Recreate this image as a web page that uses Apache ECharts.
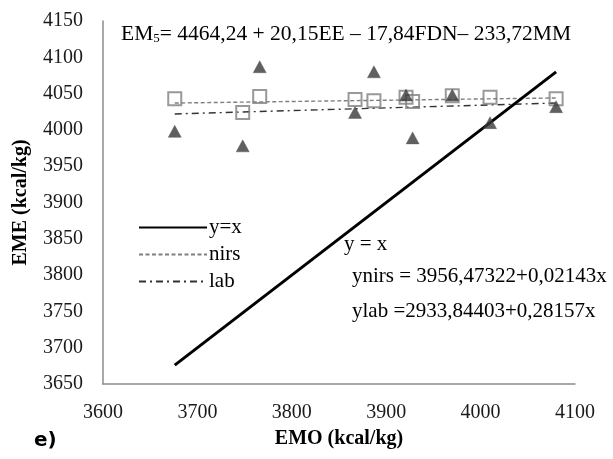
<!DOCTYPE html>
<html>
<head>
<meta charset="utf-8">
<script src="https://cdn.jsdelivr.net/npm/echarts@6/dist/echarts.min.js"></script>
<style>html,body{margin:0;padding:0;background:#fff;}#c{width:613px;height:459px;}</style>
</head>
<body>
<div id="c"></div>
<script>
const emo = [3676, 3748, 3766, 3867, 3887, 3921, 3928, 3970, 4010, 4080];
const nirsValues = [4043, 4024, 4046, 4042, 4040, 4045, 4039, 4047, 4045, 4043];
const labValues = [3998, 3978, 4087, 4024, 4080, 4048, 3989, 4048, 4010, 4032];
const identityLine = [[3676, 3676], [4080, 4080]];
const nirsTrend = [[3676, 4037], [4080, 4044]];
const labTrend = [[3676, 4022], [4080, 4037]];
const xTicks = {min: 3600, max: 4100, interval: 100};
const yTicks = {min: 3650, max: 4150, interval: 50};

const serif = '"Liberation Serif", "DejaVu Serif", serif';
const chart = echarts.init(document.getElementById('c'), null, {renderer: 'canvas'});
chart.setOption({
  animation: false,
  backgroundColor: '#fff',
  grid: {left: 103, top: 21, right: 38, bottom: 75},
  xAxis: {
    type: 'value', min: xTicks.min, max: xTicks.max, interval: xTicks.interval,
    axisLine: {show: true, lineStyle: {color: '#8c8c8c', width: 1.5}},
    axisTick: {show: false}, splitLine: {show: false},
    axisLabel: {color: '#1a1a1a', fontFamily: serif, fontSize: 20, margin: 19, formatter: v => String(v)},
    name: 'EMO (kcal/kg)', nameLocation: 'middle', nameGap: 45,
    nameTextStyle: {color: '#000', fontFamily: serif, fontSize: 20, fontWeight: 'bold'}
  },
  yAxis: {
    type: 'value', min: yTicks.min, max: yTicks.max, interval: yTicks.interval,
    axisLine: {show: true, lineStyle: {color: '#8c8c8c', width: 1.5}},
    axisTick: {show: false}, splitLine: {show: false},
    axisLabel: {color: '#1a1a1a', fontFamily: serif, fontSize: 20, margin: 20, formatter: v => String(v)},
    name: 'EME (kcal/kg)', nameLocation: 'middle', nameGap: 72, nameRotate: 90,
    nameTextStyle: {color: '#000', fontFamily: serif, fontSize: 20, fontWeight: 'bold'}
  },
  legend: {
    orient: 'vertical', left: 133, top: 212, itemGap: 6, itemWidth: 68, itemHeight: 20,
    data: ['y=x', 'nirs', 'lab'],
    itemStyle: {opacity: 0},
    textStyle: {color: '#000', fontFamily: serif, fontSize: 21, padding: [0,0,0,-3]}
  },
  series: [
    {name: 'y=x', type: 'line', data: identityLine, symbol: 'none', showSymbol: false,
     lineStyle: {color: '#000', width: 3}, itemStyle: {color: '#000'}, z: 3},
    {name: 'nirs', type: 'line', data: nirsTrend, symbol: 'none', showSymbol: false,
     lineStyle: {color: '#7f7f7f', width: 1.4, type: [4, 2.5]}, itemStyle: {color: '#7f7f7f'}, z: 2},
    {name: 'lab', type: 'line', data: labTrend, symbol: 'none', showSymbol: false,
     lineStyle: {color: '#333', width: 1.4, type: [7, 4, 2, 4]}, itemStyle: {color: '#333'}, z: 2},
    {name: 'nirsPts', type: 'scatter', data: emo.map((x, i) => [x, nirsValues[i]]),
     symbol: 'rect', symbolSize: 13,
     itemStyle: {color: 'rgba(255,255,255,0)', borderColor: '#7f7f7f', borderWidth: 2}, z: 4},
    {name: 'labPts', type: 'scatter', data: emo.map((x, i) => [x, labValues[i]]),
     symbol: 'triangle', symbolSize: [13, 12],
     itemStyle: {color: '#383838', borderColor: '#555', borderWidth: 0.5}, z: 5}
  ],
  graphic: [
    {type: 'text', left: 121, top: 23, style: {
      text: '{a|EM}{s|5}{a|= 4464,24 + 20,15EE – 17,84FDN– 233,72MM}',
      rich: {a: {fontFamily: serif, fontSize: 21.5, fill: '#000'},
             s: {fontFamily: serif, fontSize: 13, fill: '#000', verticalAlign: 'bottom', padding: [10,0,0,0]}}}},
    {type: 'text', left: 344, top: 234, style: {text: 'y = x', fontFamily: serif, fontSize: 21, fill: '#000'}},
    {type: 'text', left: 352, top: 266, style: {text: 'ynirs = 3956,47322+0,02143x', fontFamily: serif, fontSize: 21, fill: '#000'}},
    {type: 'text', left: 352, top: 301, style: {text: 'ylab =2933,84403+0,28157x', fontFamily: serif, fontSize: 21, fill: '#000'}},
    {type: 'text', left: 34, top: 431, style: {text: 'e)', fontFamily: '"DejaVu Sans", sans-serif', fontWeight: 'bold', fontSize: 20, fill: '#000'}}
  ]
});
</script>
</body>
</html>
